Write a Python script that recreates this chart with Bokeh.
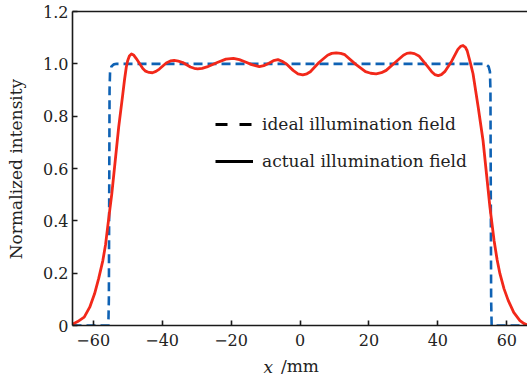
import math
from bokeh.plotting import figure
from bokeh.models import (Range1d, FixedTicker, LinearAxis, Legend, LegendItem,
                          Label, ColumnDataSource)
from bokeh.embed import file_html
from bokeh.resources import INLINE

# ---- data ----
ideal_x = [-66, -55.6, -55.45, -55.35, -55.25, -55.1, -54.7, -54.0, -53.2,
           53.2, 54.0, 54.7, 55.1, 55.25, 55.35, 55.45, 55.6, 66]
ideal_y = [0, 0, 0.1, 0.5, 0.9, 0.97, 0.99, 0.998, 1.0,
           1.0, 0.998, 0.99, 0.97, 0.9, 0.5, 0.1, 0, 0]

actual_x = [-66.0, -64.5, -62.6, -61.0, -59.6, -58.4, -57.2, -56.4, -55.8, -55.2,
            -54.6, -53.6, -52.6, -51.4, -50.9, -50.4, -50.0, -49.5, -48.9, -48.3,
            -47.5, -46.5, -45.6, -44.8, -43.8, -42.8, -41.8, -40.8, -38.8, -37.6,
            -36.5, -35.3, -34.0, -31.8, -30.7, -29.7, -28.4, -27.0, -24.0, -21.5,
            -19.3, -17.6, -16.0, -14.0, -11.8, -10.5, -9.0, -7.7, -6.4, -5.2,
            -4.0, -2.0, -0.6, 0.8, 2.0, 3.0, 5.5, 8.0, 9.2, 10.5,
            11.8, 13.0, 16.0, 19.0, 20.5, 22.1, 23.6, 25.0, 28.0, 30.0,
            31.0, 32.0, 33.2, 34.5, 37.0, 38.2, 39.1, 40.1, 41.0, 42.0,
            44.0, 45.8, 46.6, 47.3, 48.0, 48.5, 49.5, 50.2, 51.7, 53.1,
            54.1, 55.1, 56.3, 57.2, 58.0, 59.2, 60.4, 62.0, 63.8, 65.0,
            66.0]
actual_y = [0.005, 0.015, 0.032, 0.07, 0.121, 0.18, 0.248, 0.31, 0.376, 0.44,
            0.503, 0.63, 0.758, 0.885, 0.94, 0.987, 1.012, 1.03, 1.038, 1.034,
            1.02, 1.0, 0.982, 0.972, 0.967, 0.966, 0.971, 0.98, 1.003, 1.011,
            1.013, 1.01, 1.005, 0.988, 0.983, 0.981, 0.983, 0.988, 1.005, 1.018,
            1.021, 1.016, 1.008, 0.997, 0.989, 0.993, 1.002, 1.012, 1.016, 1.01,
            1.0, 0.975, 0.962, 0.958, 0.962, 0.97, 1.005, 1.033, 1.04, 1.042,
            1.04, 1.035, 1.0, 0.97, 0.964, 0.962, 0.966, 0.975, 1.01, 1.033,
            1.04, 1.042, 1.039, 1.03, 0.99, 0.97, 0.959, 0.955, 0.959, 0.97,
            1.01, 1.055, 1.067, 1.07, 1.063, 1.05, 1.0, 0.962, 0.834, 0.707,
            0.58, 0.452, 0.325, 0.25, 0.198, 0.14, 0.096, 0.05, 0.019, 0.007,
            0.002]

x_ticks = [-60, -40, -20, 0, 20, 40, 60]
x_tick_labels = ["\u221260", "\u221240", "\u221220", "0", "20", "40", "60"]
y_ticks = [0, 0.2, 0.4, 0.6, 0.8, 1.0, 1.2]
y_tick_labels = ["0", "0.2", "0.4", "0.6", "0.8", "1.0", "1.2"]

legend_labels = ["ideal illumination field", "actual illumination field"]
y_label = "Normalized intensity"
x_label_var = "x"
x_label_unit = "/mm"

FONT = "DejaVu Serif"

p = figure(width=527, height=379, output_backend="svg", toolbar_location=None,
           x_range=Range1d(-66, 66), y_range=Range1d(0, 1.2),
           min_border_left=72, min_border_right=0, min_border_top=11,
           min_border_bottom=54)
p.outline_line_color = None
p.grid.visible = False
p.background_fill_color = "white"
p.border_fill_color = "white"

p.line(ideal_x, ideal_y, line_color="#0f62b4", line_width=2.6, line_dash="9 5")
p.line(actual_x, actual_y, line_color="#f2281a", line_width=2.8,
       line_join="round")

# black stand-in renderers (kept outside the visible range) for the legend
src = ColumnDataSource(data=dict(x=[-1000, -999], y=[-10, -10]))
r1 = p.line("x", "y", source=src, line_color="black", line_width=3, line_dash="12 12")
r2 = p.line("x", "y", source=src, line_color="black", line_width=3)
leg = Legend(items=[LegendItem(label=legend_labels[0], renderers=[r1]),
                    LegendItem(label=legend_labels[1], renderers=[r2])],
             location=(143, 154), padding=0, margin=0, spacing=17,
             glyph_width=38, glyph_height=20, label_height=20, label_standoff=9,
             border_line_color=None, background_fill_alpha=0,
             label_text_font=FONT, label_text_font_size="17px",
             label_text_color="#222222")
p.add_layout(leg, "center")

for ax in [p.xaxis[0], p.yaxis[0]]:
    ax.major_tick_in = 5
    ax.major_tick_out = 0
    ax.minor_tick_line_color = None
    ax.axis_line_width = 1.6
    ax.major_tick_line_width = 1.6
    ax.axis_line_color = "#1a1a1a"
    ax.major_tick_line_color = "#1a1a1a"
    ax.major_label_text_font = FONT
    ax.major_label_text_font_size = "16px"
    ax.major_label_text_color = "#222222"
    ax.axis_label_text_font = FONT
    ax.axis_label_text_font_size = "17px"
    ax.axis_label_text_font_style = "normal"
    ax.axis_label_text_color = "#222222"

p.xaxis[0].ticker = FixedTicker(ticks=x_ticks)
p.xaxis[0].major_label_overrides = dict(zip(x_ticks, x_tick_labels))
p.xaxis[0].major_label_standoff = 8
p.xaxis[0].axis_label = x_label_unit
p.xaxis[0].axis_label_standoff = 7

p.yaxis[0].ticker = FixedTicker(ticks=y_ticks)
p.yaxis[0].major_label_overrides = dict(zip(y_ticks, y_tick_labels))
p.yaxis[0].major_label_standoff = 4

top = LinearAxis(ticker=FixedTicker(ticks=[]), major_label_text_font_size="0px",
                 major_tick_line_color=None, minor_tick_line_color=None,
                 axis_line_width=1.6, axis_line_color="#1a1a1a")
p.add_layout(top, "above")

# y-axis title and the italic variable of the x-axis title, in the left side
# panel so that they are not clipped to the frame
p.add_layout(Label(x=-82.5, y=0.598, text=y_label, angle=math.pi / 2,
                   text_font=FONT, text_font_size="17px", text_align="center",
                   text_baseline="middle", text_color="#222222"), "left")
p.add_layout(Label(x=-10.6, y=-0.157, text=x_label_var,
                   text_font=FONT, text_font_style="italic", text_font_size="17px",
                   text_color="#222222", text_baseline="alphabetic"), "left")

open("out.html", "w").write(file_html(p, INLINE))
